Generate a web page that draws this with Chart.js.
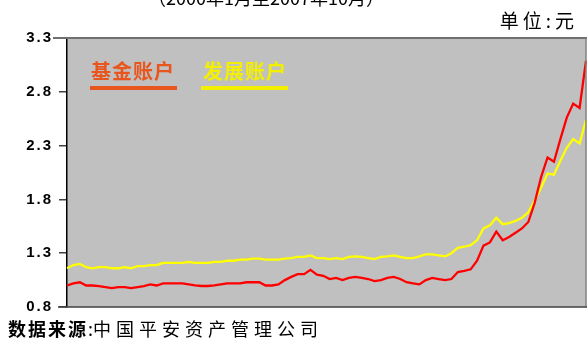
<!DOCTYPE html>
<html>
<head>
<meta charset="utf-8">
<script src="https://cdn.jsdelivr.net/npm/chart.js@4/dist/chart.umd.min.js"></script>
<style>
  body { margin: 0; background: #fff; }
  #wrap { position: relative; width: 587px; height: 341px; overflow: hidden; }
  #chart-canvas { position: absolute; left: 0; top: 0; }
  .unit { position: absolute; right: 9px; top: 6px; font: 19px "Noto Sans CJK SC"; letter-spacing: 4px; color: #000; }
  .src { position: absolute; left: 8px; top: 315px; font: 18px "Noto Sans CJK SC"; color: #000; white-space: nowrap; }
  .src b { letter-spacing: 2px; }
  .src span { letter-spacing: 5px; }
</style>
</head>
<body>
<div id="wrap">
  <canvas id="chart-canvas" width="587" height="341"></canvas>
  <div class="unit">单位:元</div>
  <div class="src"><b>数据来源</b>:<span>中国平安资产管理公司</span></div>
</div>
<script>
// monthly points (no axis labels shown in the original)
const months = [];
for (let i = 0; i < 82; i++) { months.push(String(i + 1)); }

// 基金账户
const fundValues = [
  1.00, 1.02, 1.03, 1.00, 1.00, 0.995, 0.985, 0.975, 0.985, 0.985,
  0.975, 0.985, 0.995, 1.01, 1.00, 1.02, 1.02, 1.02, 1.02, 1.01,
  1.00, 0.995, 0.995, 1.00, 1.01, 1.02, 1.02, 1.02, 1.03, 1.03,
  1.03, 1.00, 1.00, 1.01, 1.05, 1.08, 1.105, 1.105, 1.145, 1.10,
  1.09, 1.06, 1.07, 1.05, 1.07, 1.08, 1.07, 1.06, 1.04, 1.05,
  1.07, 1.08, 1.06, 1.03, 1.02, 1.01, 1.05, 1.07, 1.06, 1.05,
  1.06, 1.125, 1.135, 1.15, 1.23, 1.37, 1.40, 1.50, 1.42, 1.45,
  1.49, 1.53, 1.59, 1.77, 2.01, 2.19, 2.15, 2.36, 2.56, 2.69,
  2.65, 3.09
];

// 发展账户
const growthValues = [
  1.16, 1.19, 1.20, 1.17, 1.16, 1.17, 1.17, 1.16, 1.16, 1.17,
  1.16, 1.18, 1.18, 1.19, 1.19, 1.21, 1.21, 1.21, 1.21, 1.22,
  1.21, 1.21, 1.21, 1.22, 1.22, 1.23, 1.23, 1.24, 1.24, 1.25,
  1.25, 1.24, 1.24, 1.24, 1.25, 1.255, 1.265, 1.265, 1.28, 1.255,
  1.255, 1.245, 1.255, 1.245, 1.265, 1.27, 1.265, 1.255, 1.245, 1.265,
  1.27, 1.28, 1.265, 1.255, 1.255, 1.27, 1.29, 1.29, 1.28, 1.27,
  1.30, 1.35, 1.36, 1.375, 1.42, 1.53, 1.56, 1.63, 1.57, 1.58,
  1.60, 1.63, 1.68, 1.79, 1.91, 2.04, 2.03, 2.16, 2.28, 2.36,
  2.32, 2.54
];

const yTicks = [0.8, 1.3, 1.8, 2.3, 2.8, 3.3];

// grey plot background + frame lines + the custom legend
const framePlugin = {
  id: 'frame',
  beforeDraw: function(chart) {
    const ctx = chart.ctx, a = chart.chartArea;
    ctx.save();
    ctx.fillStyle = '#C0C0C0';
    ctx.fillRect(a.left, a.top, a.right - a.left, a.bottom - a.top);

    // cut off title at the very top
    ctx.fillStyle = '#000';
    ctx.font = '18px "Noto Sans CJK SC"';
    ctx.textAlign = 'center';
    ctx.textBaseline = 'alphabetic';
    ctx.fillText('（2000年1月至2007年10月）', 266, 5);
    ctx.restore();
    // letter spaced tick labels like the original
    ctx.letterSpacing = '2px';
  },
  afterDraw: function(chart) {
    const ctx = chart.ctx, a = chart.chartArea;
    ctx.save();
    ctx.strokeStyle = '#707070';
    ctx.lineWidth = 2;
    ctx.beginPath();
    ctx.moveTo(53, a.top); ctx.lineTo(587, a.top);
    ctx.stroke();
    ctx.lineWidth = 1.5;
    ctx.strokeStyle = '#808080';
    ctx.beginPath();
    ctx.moveTo(a.right, a.top); ctx.lineTo(a.right, a.bottom);
    ctx.stroke();
    ctx.strokeStyle = '#404040';
    ctx.beginPath();
    ctx.moveTo(58, a.bottom); ctx.lineTo(587, a.bottom);
    ctx.stroke();

    // legend: text with a thick underline
    const items = [
      { text: '基金账户', color: '#E8561E', x: 91, x0: 90, x1: 177 },
      { text: '发展账户', color: '#F2F000', x: 203, x0: 201, x1: 288 }
    ];
    ctx.letterSpacing = '1px';
    ctx.font = 'bold 20px "Noto Sans CJK SC"';
    ctx.textAlign = 'left';
    ctx.textBaseline = 'alphabetic';
    items.forEach(function(it) {
      ctx.fillStyle = it.color;
      ctx.fillText(it.text, it.x, 79);
      ctx.strokeStyle = it.color;
      ctx.lineWidth = 4;
      ctx.beginPath();
      ctx.moveTo(it.x0, 88); ctx.lineTo(it.x1, 88);
      ctx.stroke();
    });
    ctx.restore();
  }
};

new Chart('chart-canvas', {
  type: 'line',
  data: {
    labels: months,
    datasets: [
      { label: '基金账户', data: fundValues, borderColor: '#FF0000', borderWidth: 2.3, pointRadius: 0, tension: 0 },
      { label: '发展账户', data: growthValues, borderColor: '#FFFF00', borderWidth: 2.3, pointRadius: 0, tension: 0 }
    ]
  },
  options: {
    responsive: false,
    animation: false,
    layout: { padding: { left: 0, right: 1, top: 38, bottom: 34 } },
    plugins: { legend: { display: false }, tooltip: { enabled: false } },
    scales: {
      x: { display: false, offset: false },
      y: {
        min: 0.8,
        max: 3.3,
        afterFit: function(s) { s.width = 67; },
        afterBuildTicks: function(s) { s.ticks = yTicks.map(v => ({ value: v })); },
        ticks: {
          color: '#000',
          padding: 6,
          font: { family: '"Liberation Sans", Arial', size: 15, weight: 'bold' },
          callback: function(v) { return v.toFixed(1); }
        },
        grid: { drawOnChartArea: false, drawTicks: true, tickLength: 8, color: '#404040', lineWidth: 1.5 },
        border: { display: true, color: '#000', width: 1.5 }
      }
    }
  },
  plugins: [framePlugin]
});
</script>
</body>
</html>
